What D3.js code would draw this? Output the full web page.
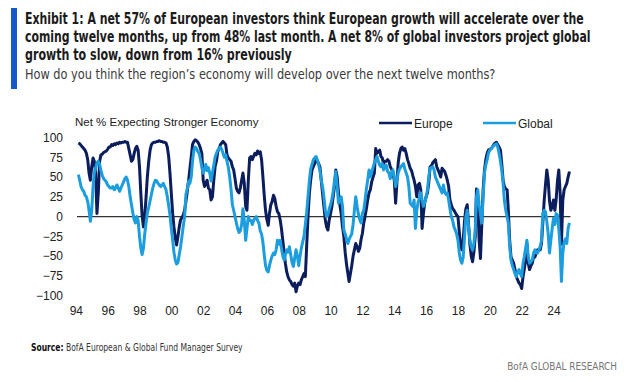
<!DOCTYPE html>
<html><head><meta charset="utf-8">
<script src="https://cdn.jsdelivr.net/npm/d3@7"></script>
<style>
html,body{margin:0;padding:0;background:#fff;}
svg{display:block;}
</style></head><body>
<svg id="c" width="640" height="382"></svg>
<script>
// ---- data (monthly, starting March 1994) ----
const startYear = 1994, startMonth = 2;
const europe = [
93,92,90,88,86,84,80,72,55,46,63,74,
70,55,4,30,70,78,79,81,82,83,85,88,
88,91,90,92,91,93,92,94,93,94,94,95,
94,94,86,78,70,72,80,86,89,84,63,29,
2,-13,0,25,51,70,84,91,93,94,94,95,
95,96,95,95,94,94,93,88,76,55,29,4,
-13,-27,-36,-25,-13,-4,-1,2,8,19,32,46,
60,75,91,95,97,96,94,91,86,80,46,38,
42,46,36,34,21,25,46,63,70,82,86,91,
93,95,93,91,78,74,72,70,63,59,48,36,
32,30,36,46,55,42,13,8,46,74,76,72,
76,80,78,83,80,82,72,51,27,8,-4,-11,
4,15,19,27,23,13,6,4,-4,-15,-30,-46,
-59,-70,-76,-80,-82,-86,-88,-84,-95,-88,-84,-86,
-80,-76,-72,-76,-38,0,29,46,59,63,67,72,
70,67,63,46,29,13,-4,-13,-17,-4,4,13,
25,38,59,50,30,15,4,-13,-25,-45,-60,-72,
-82,-72,-62,-50,-42,-34,-38,-44,-40,-29,-21,-8,
0,10,21,30,34,44,50,55,86,80,82,84,
76,74,67,70,70,72,70,63,60,55,46,17,
42,68,80,86,88,84,86,80,72,67,61,58,
52,46,38,25,40,42,34,-15,4,18,25,30,
42,63,64,68,70,72,63,59,55,50,61,59,
57,52,46,38,21,15,10,8,5,2,0,-20,
-35,-42,-30,-5,10,15,-10,-35,-50,-57,-45,-25,
35,20,-30,-53,-10,34,59,72,80,84,85,86,
88,91,93,94,91,88,84,67,46,38,35,34,
8,-30,-51,-55,-59,-67,-76,-80,-84,-86,-91,-76,
-67,-55,-34,-59,-67,-62,-59,-51,-51,-46,-42,-42,
-42,-34,-8,20,40,59,46,20,8,13,21,8,
21,45,59,30,-35,21,34,38,42,50,57
];
const global = [
53,46,38,34,32,27,25,19,8,-6,8,38,
55,62,68,70,66,58,52,48,46,44,40,38,
36,36,38,34,36,40,36,32,36,40,44,48,
50,46,38,25,15,5,-4,-8,0,-5,-25,-40,
-48,-40,-22,-8,5,12,20,28,36,42,46,45,
42,40,38,40,42,38,34,25,14,2,-15,-30,
-45,-55,-60,-58,-48,-38,-25,-12,0,28,35,45,
42,50,70,84,88,86,82,80,72,62,55,60,
66,58,62,55,45,55,65,75,80,84,86,88,
85,80,75,78,70,62,50,35,15,8,0,-8,
-15,-20,-18,-10,10,-5,-30,-15,0,-5,-5,-10,
-5,-2,0,-5,-8,-18,-22,-32,-48,-62,-68,-70,
-62,-55,-50,-46,-48,-42,-30,-35,-30,-40,-50,-55,
-48,-42,-45,-38,-48,-58,-63,-52,-42,-50,-62,-50,
-40,-32,-25,-10,5,25,45,60,66,72,74,76,
72,66,58,46,38,25,8,0,2,10,15,22,
32,45,57,38,17,20,25,13,-17,-22,-28,-34,
-29,-25,-22,-10,8,25,13,3,-4,-8,4,8,
20,35,46,59,50,56,62,68,72,76,70,65,
63,67,59,63,65,57,55,48,56,59,50,38,
46,55,60,63,65,67,60,55,50,38,17,15,
13,21,-15,8,18,24,30,21,13,18,25,34,
50,61,62,63,59,50,46,42,38,34,30,40,
32,28,30,21,10,0,-5,-13,-17,-22,-30,-46,
-55,-59,-51,-25,0,8,-13,-30,-38,-42,-34,-17,
25,34,15,4,-8,25,55,65,72,80,84,86,
88,90,91,92,88,80,70,59,42,20,8,0,
-8,-38,-55,-62,-67,-72,-76,-70,-67,-72,-76,-59,
-51,-40,-30,-51,-59,-57,-55,-46,-42,-46,-46,-42,
-38,-30,4,8,6,-6,-22,-46,-30,-15,-2,-10,
4,2,-15,-38,-82,-46,-32,-28,-34,-15,-8
];
const seriesNames = ["Europe", "Global"];
const xTickYears = [1994,1996,1998,2000,2002,2004,2006,2008,2010,2012,2014,2016,2018,2020,2022,2024];
const xTickLabels = ["94","96","98","00","02","04","06","08","10","12","14","16","18","20","22","24"];
const yTicks = [100,75,50,25,0,-25,-50,-75,-100];
const titleLines = [
  "Exhibit 1: A net 57% of European investors think European growth will accelerate over the",
  "coming twelve months, up from 48% last month. A net 8% of global investors project global",
  "growth to slow, down from 16% previously"
];
const subtitle = "How do you think the region\u2019s economy will develop over the next twelve months?";
const yAxisTitle = "Net % Expecting Stronger Economy";
const sourceLabel = "Source:";
const sourceText = " BofA European & Global Fund Manager Survey";
const brand = "BofA GLOBAL RESEARCH";

// ---- drawing ----
const svg = d3.select("#c");
const colors = {Europe: "#0b1d5c", Global: "#1b9dde"};
const dateOf = i => new Date(startYear, startMonth + i, 1);
const narrow = "'Liberation Sans Narrow','DejaVu Sans Condensed','Arial Narrow',sans-serif";
const chartFont = "'Liberation Sans', Arial, sans-serif";

// fit a text horizontally to a target width by scaling its glyphs
function fit(sel, x0, y0, target, anchor) {
  sel.attr("x", 0).attr("y", 0).attr("text-anchor", anchor || "start");
  const w = sel.node().getComputedTextLength();
  const s = target / w;
  sel.attr("transform", `translate(${x0},${y0}) scale(${s},1)`);
  return sel;
}

const x = d3.scaleTime()
  .domain([new Date(1994,0,1), new Date(2024,0,1)])
  .range([75.8, 553.5]);
const y = d3.scaleLinear().domain([-100, 100]).range([295.7, 137.5]);

// header
svg.append("rect").attr("x", 11).attr("y", 8).attr("width", 6).attr("height", 81).attr("fill", "#1657cc");
const titleWidths = [559, 566, 267];
titleLines.forEach((t, k) => {
  const tx = svg.append("text")
    .attr("font-family", narrow).attr("font-weight", "bold")
    .attr("font-size", 15).attr("fill", "#1b1b1b").text(t);
  fit(tx, 25, 24 + k * 18, titleWidths[k]);
});
fit(svg.append("text").attr("font-family", narrow).attr("font-size", 14.5)
  .attr("fill", "#3a3a3a").text(subtitle), 25, 79, 471);

// axis title
svg.append("text").attr("x", 75).attr("y", 126).attr("font-family", chartFont)
  .attr("font-size", 11.5).attr("fill", "#222").text(yAxisTitle);

// legend
const legX = [379, 483];
seriesNames.forEach((s, k) => {
  svg.append("line").attr("x1", legX[k]).attr("x2", legX[k] + 33).attr("y1", 123).attr("y2", 123)
    .attr("stroke", colors[s]).attr("stroke-width", 2.6);
  svg.append("text").attr("x", legX[k] + 35).attr("y", 127.5).attr("font-family", chartFont)
    .attr("font-size", 12).attr("fill", "#222").text(s);
});

// y axis (labels only)
const yAxis = d3.axisLeft(y).tickValues(yTicks).tickSize(0).tickPadding(0);
const gy = svg.append("g").attr("transform", "translate(63,0)").call(yAxis);
gy.select(".domain").remove();
gy.selectAll("text").attr("font-family", chartFont).attr("font-size", 12).attr("fill", "#222");

// x axis (labels only)
const xAxis = d3.axisBottom(x).tickValues(xTickYears.map(yr => new Date(yr,0,1)))
  .tickFormat((d, i) => xTickLabels[i]).tickSize(0).tickPadding(0);
const gx = svg.append("g").attr("transform", "translate(0,306)").call(xAxis);
gx.select(".domain").remove();
gx.selectAll("text").attr("font-family", chartFont).attr("font-size", 12).attr("fill", "#222");

// zero line
svg.append("line").attr("x1", 77).attr("x2", x(dateOf(europe.length - 1)) + 1)
  .attr("y1", y(0)).attr("y2", y(0)).attr("stroke", "#333").attr("stroke-width", 1.2);

// series
const line = d3.line().x((d, i) => x(dateOf(i))).y(d => y(d));
[["Europe", europe], ["Global", global]].forEach(([name, vals]) => {
  svg.append("path").datum(vals).attr("d", line).attr("fill", "none")
    .attr("stroke", colors[name]).attr("stroke-width", 3)
    .attr("stroke-linejoin", "round");
});

// footer
const ft = svg.append("text").attr("font-family", narrow)
  .attr("font-size", 10.5).attr("fill", "#333");
ft.append("tspan").attr("font-weight", "bold").attr("fill", "#111").text(sourceLabel);
ft.append("tspan").text(sourceText);
fit(ft, 31, 351, 212);
fit(svg.append("text").attr("font-family", narrow).attr("font-size", 10.5)
  .attr("fill", "#777").text(brand), 617, 370, 110, "end");
</script>
</body></html>
